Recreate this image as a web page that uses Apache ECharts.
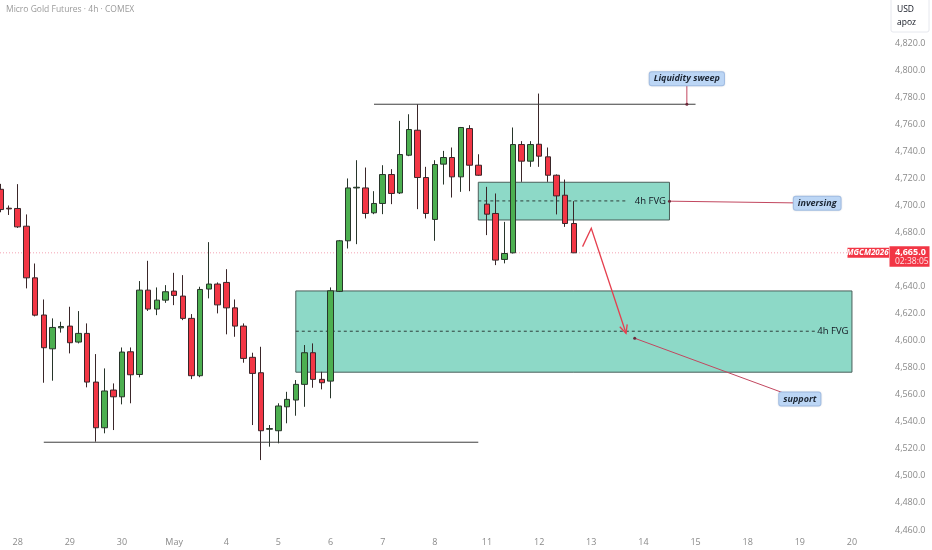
<!DOCTYPE html>
<html><head><meta charset="utf-8">
<script src="https://cdn.jsdelivr.net/npm/echarts@6/dist/echarts.min.js"></script>
<style>html,body{margin:0;padding:0;background:#fff}#c{width:932px;height:550px}</style>
</head><body><div id="c"></div>
<script>
// ---------- data ----------
const dayLabels = ['27','28','29','30','May','4','5','6','7','8','11','12','13','14','15','18','19','20'];
const sessionHours = ['00:00','04:00','08:00','12:00','16:00','20:00'];
const opens  = [4712,4698,4697.8,4684.7,4646.5,4619,4594,4609.5,4610.8,4599,4605.4,4569.4,4535.6,4563.5,4558.5,4591.8,4575,4637.4,4623.4,4630,4636.7,4633,4616.5,4574.1,4638.2,4641.9,4643.1,4624.3,4610.8,4587.7,4576.3,4534.5,4533.4,4551.1,4556.1,4567.7,4591.1,4571.4,4570.1,4636.5,4673.9,4713,4713,4694.6,4701.5,4722.9,4709.3,4737.2,4755.7,4720.7,4689.7,4730.6,4735.5,4721.2,4756.9,4729.8,4701,4694.1,4660.1,4665,4745.1,4732.8,4745.3,4736,4722.4,4707.6,4686.7];
const closes = [4697,4697.5,4684.2,4646.5,4618.9,4594.8,4609.8,4610.5,4598.5,4605.4,4569.4,4535.6,4562.8,4558.5,4591.6,4574.8,4637.4,4623.4,4630,4636.2,4633.5,4616.5,4574.1,4637.9,4641.9,4626.5,4624.3,4610.8,4586.9,4575.8,4533.4,4535,4551.7,4556.6,4567.7,4591.1,4571.4,4568.9,4636.9,4673.9,4713,4713.5,4694.1,4701.5,4722.9,4708.9,4737.7,4756.2,4720.7,4694.1,4730.3,4735.5,4721.2,4757.7,4729.8,4722.4,4693.6,4659.6,4664.5,4745.1,4732.8,4745.1,4736.5,4722.4,4707.1,4686.7,4665];
const lows   = [4695,4693,4683.4,4638.7,4618,4568.9,4570.4,4606,4590.6,4598,4565.5,4525.3,4531.5,4533.9,4552.9,4553.7,4572.9,4622,4618.9,4628,4626.3,4615.2,4571.6,4573,4631.3,4620.2,4604.7,4602.9,4583.7,4537.6,4511.7,4521.6,4524.1,4538.9,4544.5,4551.1,4565.2,4564,4557.4,4636,4668.2,4671.4,4690.4,4693.6,4693.6,4701,4708.5,4736.5,4697.3,4690.4,4673.9,4715.5,4705.9,4710.1,4710.6,4722,4678.1,4655.9,4657.2,4664.5,4717.5,4728.6,4728.6,4717.5,4693.4,4684.2,4665];
const highs  = [4716,4700,4715.8,4693.4,4657.1,4630.5,4616.5,4614,4625.1,4621.9,4612.8,4590.1,4579.5,4568.4,4595,4595,4644.1,4659.1,4639.4,4641.1,4650.2,4648.5,4619.7,4639.9,4672.9,4643.1,4652.9,4630.5,4612.8,4591.1,4595.5,4537.6,4553.7,4562.2,4570.9,4596.8,4598,4577,4639.4,4674.5,4720,4733.5,4728.1,4710.6,4729.8,4726.9,4762.6,4767.5,4774.9,4728.6,4733.5,4740.4,4742.9,4758.1,4759.4,4737.9,4713.8,4708.9,4687.9,4757.7,4747.6,4747.6,4782.8,4742.9,4723,4719.2,4703.2];
const priceMin = 4440, priceMax = 4860, priceStep = 20, tickFirst = 4460, tickLast = 4820;
// zones / drawings in data coordinates (x = candle slot index, y = price)
const fvgZones = [
  {x0:55, x1:77, top:4717.2, bottom:4689.3, mid:4703.4, dashEnd:72.4, label:'4h FVG'},
  {x0:34, x1:98, top:4636.8, bottom:4576.7, mid:4607.0, dashEnd:93.5, label:'4h FVG'}
];
const levels = [
  {x0:4.8, x1:55.0, price:4524.9},
  {x0:42.9, x1:80.05, price:4774.9}
];
const callouts = [
  {text:'Liquidity sweep', x:79.0, y:4793.7, ax:79.0, ay:4774.9},
  {text:'inversing', x:93.6, y:4701.7, ax:77.06, ay:4703.2},
  {text:'support', x:92.3, y:4556.9, ax:73.05, ay:4601.8}
];
const arrowPath = [[67.0,4669.6],[67.97,4683.2],[72.08,4605.5]];
const symbolName = 'MGCM2026';
const countdown = '02:38:05';
const titleText = 'Micro Gold Futures · 4h · COMEX';

// ---------- build ----------
const allSlots = [];
dayLabels.forEach(d => sessionHours.forEach(h => allSlots.push(d + ' ' + h)));
const categories = allSlots.slice(4, 104);
const candleData = opens.map((o, i) => [o, closes[i], lows[i], highs[i]]);
const lastPrice = closes[closes.length - 1];
const FONT = '"Open Sans", sans-serif';
const fmt = v => v.toLocaleString('en-US', {minimumFractionDigits:1, maximumFractionDigits:1});

const chart = echarts.init(document.getElementById('c'));
chart.setOption({
  animation: false,
  backgroundColor: '#ffffff',
  title: {text: titleText, left: 6, top: 5, padding: 0, textStyle: {fontSize: 8.5, fontWeight: 'normal', color: '#9a9a9a', fontFamily: FONT}},
  grid: {left: -4, top: -10.8, width: 869, height: 567.8, outerBoundsMode: 'none', containLabel: false},
  xAxis: {
    type: 'category', data: categories, offset: -25,
    axisLine: {show: false}, axisTick: {show: false}, splitLine: {show: false},
    axisLabel: {
      interval: (idx, v) => v.endsWith(sessionHours[0]),
      formatter: v => v.split(' ')[0],
      fontSize: 9, color: '#8a8a8a', margin: 6, fontFamily: FONT
    }
  },
  yAxis: {
    type: 'value', position: 'right', min: priceMin, max: priceMax, interval: priceStep, scale: true,
    axisLine: {show: false}, axisTick: {show: false}, splitLine: {show: false},
    axisLabel: {
      margin: 30, fontSize: 9, color: '#8a8a8a', fontFamily: FONT,
      formatter: v => (v < tickFirst || v > tickLast) ? '' : fmt(v)
    }
  },
  series: [
    {
      type: 'custom', name: 'zones', z: 1,
      data: fvgZones.map(z => [z.x0, z.top]),
      renderItem: (params, api) => {
        const z = fvgZones[params.dataIndex];
        const p0 = api.coord([z.x0, z.top]);
        const p1 = api.coord([z.x1, z.bottom]);
        const pm = api.coord([z.x0, z.mid]);
        const pd = api.coord([z.dashEnd, z.mid]);
        return {type: 'group', children: [
          {type: 'rect', shape: {x: p0[0], y: p0[1], width: p1[0]-p0[0], height: p1[1]-p0[1]},
           style: {fill: '#8dd9c7', stroke: '#4a5f5a', lineWidth: 1}},
          {type: 'line', shape: {x1: pm[0], y1: pm[1], x2: pd[0], y2: pd[1]},
           style: {stroke: '#2f3f3c', lineWidth: 1, lineDash: [3, 3]}},
          {type: 'text', style: {text: z.label, x: p1[0]-3.5, y: pm[1], align: 'right', verticalAlign: 'middle',
           fill: '#131722', font: '9.5px ' + FONT}}
        ]};
      }
    },
    {
      type: 'custom', name: 'lastLine', z: 1,
      data: [[0, lastPrice]],
      renderItem: (params, api) => {
        const cs = params.coordSys;
        const y = api.coord([0, lastPrice])[1];
        return {type: 'line', shape: {x1: 0, y1: y, x2: cs.x + cs.width, y2: y},
          style: {stroke: '#f4a3b3', lineWidth: 1, lineDash: [1, 2]}};
      }
    },
    {
      type: 'candlestick', name: 'MGC', z: 2, barWidth: 6,
      data: candleData,
      itemStyle: {color: '#4caf50', color0: '#f23645', borderColor: '#27352a', borderColor0: '#3a2629', borderWidth: 1}
    },
    {
      type: 'custom', name: 'levels', z: 3,
      data: levels.map(l => [l.x0, l.price]),
      renderItem: (params, api) => {
        const l = levels[params.dataIndex];
        const a = api.coord([l.x0, l.price]), b = api.coord([l.x1, l.price]);
        return {type: 'line', shape: {x1: a[0], y1: a[1], x2: b[0], y2: b[1]}, style: {stroke: '#3d3d3d', lineWidth: 1}};
      }
    },
    {
      type: 'custom', name: 'arrow', z: 3,
      data: [arrowPath[0]],
      renderItem: (params, api) => {
        const pts = arrowPath.map(p => api.coord(p));
        const e = pts[pts.length-1], s = pts[pts.length-2];
        const ang = Math.atan2(e[1]-s[1], e[0]-s[0]);
        const L = 9, spread = 0.45;
        const h1 = [e[0] - L*Math.cos(ang-spread), e[1] - L*Math.sin(ang-spread)];
        const h2 = [e[0] - L*Math.cos(ang+spread), e[1] - L*Math.sin(ang+spread)];
        return {type: 'group', children: [
          {type: 'polyline', shape: {points: pts}, style: {stroke: '#e5404f', lineWidth: 1.3, fill: null}},
          {type: 'polyline', shape: {points: [h1, e, h2]}, style: {stroke: '#e5404f', lineWidth: 1.3, fill: null}}
        ]};
      }
    },
    {
      type: 'custom', name: 'callouts', z: 4,
      data: callouts.map(c => [c.x, c.y]),
      renderItem: (params, api) => {
        const c = callouts[params.dataIndex];
        const p = api.coord([c.x, c.y]);
        const a = api.coord([c.ax, c.ay]);
        return {type: 'group', children: [
          {type: 'line', shape: {x1: a[0], y1: a[1], x2: p[0], y2: p[1]}, style: {stroke: '#c2475f', lineWidth: 1}},
          {type: 'circle', shape: {cx: a[0], cy: a[1], r: 1.5}, style: {fill: '#6b2a3a'}},
          {type: 'text', z2: 10, style: {text: c.text, x: p[0], y: p[1], align: 'center', verticalAlign: 'middle',
            fill: '#1c2633', font: 'italic bold 9px ' + FONT, backgroundColor: '#bcd6f5',
            borderColor: '#a7c3ea', borderWidth: 1, borderRadius: 2, padding: [2, 4, 2, 4],
            shadowColor: 'rgba(0,0,0,0.12)', shadowBlur: 2}}
        ]};
      }
    },
    {
      type: 'custom', name: 'priceTag', z: 5,
      data: [[0, lastPrice]],
      renderItem: (params, api) => {
        const cs = params.coordSys;
        const y = api.coord([0, lastPrice])[1];
        const r = cs.x + cs.width;
        return {type: 'group', children: [
          {type: 'rect', shape: {x: r-17.5, y: y-5, width: 41.5, height: 10}, style: {fill: '#f23645'}},
          {type: 'text', style: {text: symbolName, x: r+2.5, y: y, align: 'center', verticalAlign: 'middle', fill: '#fff', font: 'italic bold 8px ' + FONT}},
          {type: 'rect', shape: {x: r+24.5, y: y-6.5, width: 40, height: 20.5}, style: {fill: '#f23645'}},
          {type: 'text', style: {text: fmt(lastPrice), x: r+30, y: y-0.5, align: 'left', verticalAlign: 'middle', fill: '#fff', font: 'bold 9px ' + FONT}},
          {type: 'text', style: {text: countdown, x: r+30, y: y+8.5, align: 'left', verticalAlign: 'middle', fill: '#ffe3e7', font: '8.5px ' + FONT}}
        ]};
      }
    }
  ],
  graphic: [
    {type: 'rect', shape: {x: 891, y: -2, width: 38, height: 34, r: 2}, style: {fill: '#fff', stroke: '#e6e8ee', lineWidth: 1}},
    {type: 'text', style: {text: 'USD', x: 897, y: 10, verticalAlign: 'middle', fill: '#131722', font: '8.5px ' + FONT}},
    {type: 'text', style: {text: 'apoz', x: 897, y: 23, verticalAlign: 'middle', fill: '#131722', font: '8.5px ' + FONT}}
  ]
});
</script></body></html>
